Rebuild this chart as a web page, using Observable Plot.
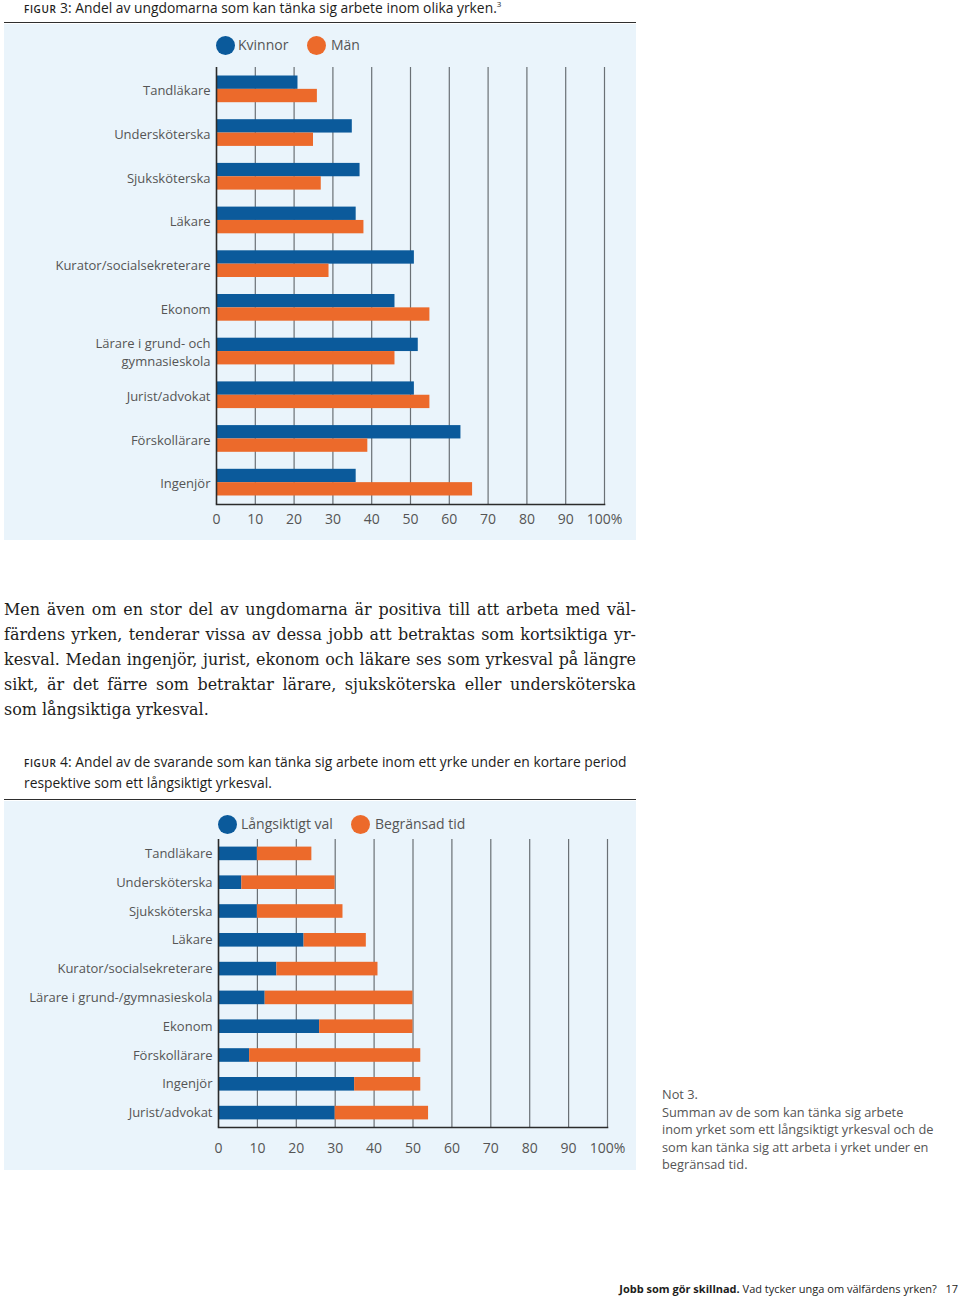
<!DOCTYPE html>
<html>
<head>
<meta charset="utf-8">
<script src="https://cdn.jsdelivr.net/npm/d3@7"></script>
<script src="https://cdn.jsdelivr.net/npm/@observablehq/plot@0.6"></script>
<style>
  html, body { margin: 0; padding: 0; }
  body { width: 960px; height: 1298px; position: relative; background: #fff; font-family: "Open Sans", sans-serif; color: #333; overflow: hidden; }
  .abs { position: absolute; white-space: nowrap; }
  .cap { left: 24px; font-size: 13.85px; color: #1d1d1b; line-height: 21px; font-family: "Open Sans", sans-serif; }
  .sc { font-size: 10px; font-weight: 600; letter-spacing: 0.6px; }
  .rule { left: 4px; width: 632px; height: 0; border-top: 1.6px solid #2e2e2e; }
  .panel { left: 4px; width: 632px; background: #eaf4fb; }
  .dot { position: absolute; width: 19px; height: 19px; border-radius: 50%; }
  .legtxt { position: absolute; font-size: 14px; color: #555; line-height: 18px; font-family: "Open Sans", sans-serif; }
  .body { left: 4px; width: 632px; font-family: "DejaVu Serif", Georgia, serif; color: #1d1d1b; }
  .body div { text-align: justify; text-align-last: justify; height: 25px; line-height: 25px; white-space: nowrap; }
  .body div.last { text-align-last: left; }
  .note { left: 662px; top: 1086px; font-size: 12.8px; line-height: 17.5px; color: #555; font-family: "Open Sans", sans-serif; white-space: nowrap; }
  .foot { right: 2px; top: 1281px; font-size: 11px; color: #1d1d1b; font-family: "Open Sans", sans-serif; }
  svg { position: absolute; }
</style>
</head>
<body>

<div class="abs cap" id="cap1" style="top:-7px;"><span class="sc">FIGUR</span> 3: Andel av ungdomarna som kan tänka sig arbete inom olika yrken.<sup style="font-size:8px;">3</sup></div>
<div class="abs rule" style="top:22px;"></div>
<div class="abs panel" style="top:24px;height:516px;"></div>
<div class="dot" style="left:216px;top:36px;background:#0b5a9b;"></div>
<div class="legtxt" style="left:238px;top:36px;">Kvinnor</div>
<div class="dot" style="left:307px;top:36px;background:#ec6a2b;"></div>
<div class="legtxt" style="left:331px;top:36px;">Män</div>
<div id="chart1"></div>

<div class="abs body" id="bodytext" style="top:597px;">
  <div>Men även om en stor del av ungdomarna är positiva till att arbeta med väl-</div>
  <div>färdens yrken, tenderar vissa av dessa jobb att betraktas som kortsiktiga yr-</div>
  <div>kesval. Medan ingenjör, jurist, ekonom och läkare ses som yrkesval på längre</div>
  <div>sikt, är det färre som betraktar lärare, sjuksköterska eller undersköterska</div>
  <div class="last" id="lastline"><span id="lastspan">som långsiktiga yrkesval.</span></div>
</div>

<div class="abs cap" id="cap2a" style="top:751px;"><span class="sc">FIGUR</span> 4: Andel av de svarande som kan tänka sig arbete inom ett yrke under en kortare period</div>
<div class="abs cap" id="cap2b" style="top:772px;">respektive som ett långsiktigt yrkesval.</div>
<div class="abs rule" style="top:799px;"></div>
<div class="abs panel" style="top:801px;height:369px;"></div>
<div class="dot" style="left:218px;top:815px;background:#0b5a9b;"></div>
<div class="legtxt" style="left:241px;top:815px;">Långsiktigt val</div>
<div class="dot" style="left:351px;top:815px;background:#ec6a2b;"></div>
<div class="legtxt" style="left:375px;top:815px;">Begränsad tid</div>
<div id="chart2"></div>

<div class="abs note">Not 3.<br>Summan av de som kan tänka sig arbete<br>inom yrket som ett långsiktigt yrkesval och de<br>som kan tänka sig att arbeta i yrket under en<br>begränsad tid.</div>

<div class="abs foot"><span style="font-weight:700;">Jobb som gör skillnad.</span> Vad tycker unga om välfärdens yrken?&nbsp;&nbsp; 17</div>

<script>
// ---------- Data: Figur 3 ----------
const occupations1 = ["Tandläkare", "Undersköterska", "Sjuksköterska", "Läkare", "Kurator/socialsekreterare", "Ekonom", "Lärare i grund- och\ngymnasieskola", "Jurist/advokat", "Förskollärare", "Ingenjör"];
const kvinnor = [21, 35, 37, 36, 51, 46, 52, 51, 63, 36];
const man = [26, 25, 27, 38, 29, 55, 46, 55, 39, 66];

// ---------- Data: Figur 4 ----------
const occupations2 = ["Tandläkare", "Undersköterska", "Sjuksköterska", "Läkare", "Kurator/socialsekreterare", "Lärare i grund-/gymnasieskola", "Ekonom", "Förskollärare", "Ingenjör", "Jurist/advokat"];
const langsiktigt = [10, 6, 10, 22, 15, 12, 26, 8, 35, 30];
const begransad = [14, 24, 22, 16, 26, 38, 24, 44, 17, 24];

// ---------- Axis ticks ----------
const xTicks = [0, 10, 20, 30, 40, 50, 60, 70, 80, 90, 100];
const xTickLabels = ["0", "10", "20", "30", "40", "50", "60", "70", "80", "90", "100%"];

const BLUE = "#0b5a9b";
const ORANGE = "#ec6a2b";
const GRID = "#6a7075";
const AXIS = "#2b2b2b";

const fmt = d => xTickLabels[xTicks.indexOf(d)];

// Figur 3
const rows1 = [];
occupations1.forEach((o, i) => {
  rows1.push({occ: o, series: "Kvinnor", value: kvinnor[i]});
  rows1.push({occ: o, series: "Män", value: man[i]});
});
const H1 = 480, MT1 = 7, MB1 = 36;
const band1 = (H1 - MT1 - MB1) / occupations1.length;
const bar1 = 13.35;
const c1 = Plot.plot({
  width: 632, height: H1,
  marginLeft: 212, marginRight: 32, marginTop: MT1, marginBottom: MB1,
  style: {background: "transparent", fontFamily: "'Open Sans', sans-serif", fontSize: "13px", color: "#555", overflow: "visible"},
  x: {domain: [0, 100]},
  y: {domain: occupations1, padding: 0, round: false},
  marks: [
    Plot.ruleX(xTicks.slice(1), {stroke: GRID, strokeWidth: 1.2}),
    Plot.barX(rows1.filter(d => d.series === "Kvinnor"), {x: "value", y: "occ", fill: BLUE, insetTop: band1 / 2 - bar1, insetBottom: band1 / 2}),
    Plot.barX(rows1.filter(d => d.series === "Män"), {x: "value", y: "occ", fill: ORANGE, insetTop: band1 / 2, insetBottom: band1 / 2 - bar1}),
    Plot.ruleX([0], {stroke: AXIS, strokeWidth: 1.6}),
    Plot.frame({anchor: "bottom", stroke: AXIS, strokeWidth: 1.6}),
    Plot.axisX({ticks: xTicks, tickFormat: fmt, tickSize: 0, tickPadding: 10, fontSize: 14, label: null}),
    Plot.axisY({tickSize: 0, tickPadding: 6, lineHeight: 1.38, fontSize: 13, label: null})
  ]
});
c1.style.left = "4px"; c1.style.top = "60px";
document.getElementById("chart1").appendChild(c1);

// Figur 4
const rows2 = [];
occupations2.forEach((o, i) => {
  rows2.push({occ: o, series: "Långsiktigt val", value: langsiktigt[i]});
  rows2.push({occ: o, series: "Begränsad tid", value: begransad[i]});
});
const H2 = 334, MT2 = 3, MB2 = 43;
const band2 = (H2 - MT2 - MB2) / occupations2.length;
const bar2 = 13.6;
const c2 = Plot.plot({
  width: 632, height: H2,
  marginLeft: 214, marginRight: 29, marginTop: MT2, marginBottom: MB2,
  style: {background: "transparent", fontFamily: "'Open Sans', sans-serif", fontSize: "13px", color: "#555", overflow: "visible"},
  x: {domain: [0, 100]},
  y: {domain: occupations2, padding: 0, round: false},
  color: {domain: ["Långsiktigt val", "Begränsad tid"], range: [BLUE, ORANGE]},
  marks: [
    Plot.ruleX(xTicks.slice(1), {stroke: GRID, strokeWidth: 1.2}),
    Plot.barX(rows2, {x: "value", y: "occ", fill: "series", insetTop: (band2 - bar2) / 2, insetBottom: (band2 - bar2) / 2}),
    Plot.ruleX([0], {stroke: AXIS, strokeWidth: 1.6}),
    Plot.frame({anchor: "bottom", stroke: AXIS, strokeWidth: 1.6}),
    Plot.axisX({ticks: xTicks, tickFormat: fmt, tickSize: 0, tickPadding: 16, fontSize: 14, label: null}),
    Plot.axisY({tickSize: 0, tickPadding: 6, fontSize: 13, label: null})
  ]
});
c2.style.left = "4px"; c2.style.top = "836px";
document.getElementById("chart2").appendChild(c2);

// Fit the body text size so the last (unjustified) line matches the reference width
const bodyEl = document.getElementById("bodytext");
bodyEl.style.fontSize = "16px";
const ls = document.getElementById("lastspan");
const w0 = ls.getBoundingClientRect().width;
bodyEl.style.fontSize = (16 * 205 / w0) + "px";
</script>
</body>
</html>
